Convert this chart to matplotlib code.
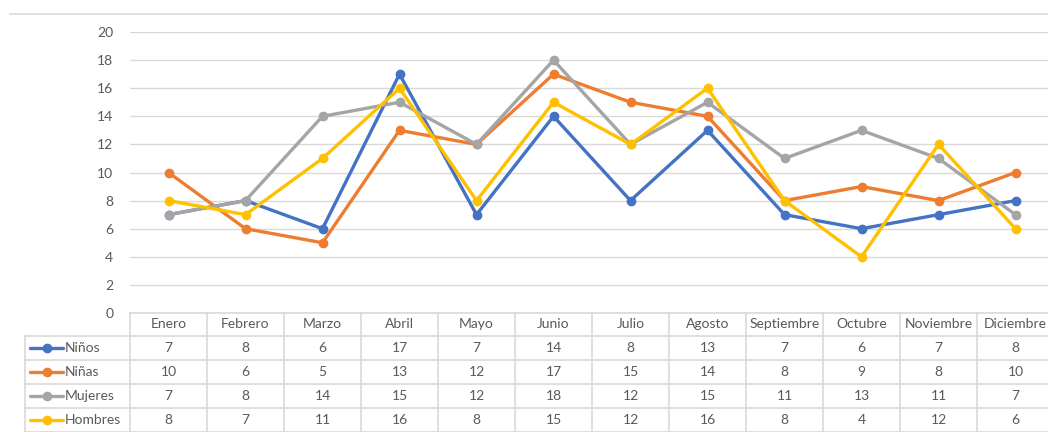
import matplotlib
matplotlib.use("Agg")
import matplotlib.pyplot as plt

months = ["Enero", "Febrero", "Marzo", "Abril", "Mayo", "Junio", "Julio",
          "Agosto", "Septiembre", "Octubre", "Noviembre", "Diciembre"]
series_names = ["Niños", "Niñas", "Mujeres", "Hombres"]
ninos = [7, 8, 6, 17, 7, 14, 8, 13, 7, 6, 7, 8]
ninas = [10, 6, 5, 13, 12, 17, 15, 14, 8, 9, 8, 10]
mujeres = [7, 8, 14, 15, 12, 18, 12, 15, 11, 13, 11, 7]
hombres = [8, 7, 11, 16, 8, 15, 12, 16, 8, 4, 12, 6]
y_ticks = [0, 2, 4, 6, 8, 10, 12, 14, 16, 18, 20]

series = [ninos, ninas, mujeres, hombres]
colors = ["#4472C4", "#ED7D31", "#A5A5A5", "#FFC000"]
txt = "#595959"
grid = "#D9D9D9"

plt.rcParams["font.family"] = ["Lato", "DejaVu Sans"]
FS = 10

W, H = 1048, 432
fig = plt.figure(figsize=(W / 100, H / 100), dpi=100)


def fx(px):
    return px / W


def fy(py):
    return 1 - py / H


x0, x1 = 130, 1054
ytop, ybot = 32, 313
colw = (x1 - x0) / 12

ax = fig.add_axes([fx(x0), fy(ybot), fx(x1) - fx(x0), fy(ytop) - fy(ybot)])
ax.set_xlim(-0.5, 11.5)
ax.set_ylim(0, 20)
ax.set_yticks(y_ticks)
ax.set_xticks([])
ax.yaxis.grid(True, color=grid, lw=1)
ax.set_axisbelow(True)
for s in ax.spines.values():
    s.set_visible(False)
ax.tick_params(axis="y", length=0, pad=12, labelsize=FS, labelcolor=txt)
for vals, c in zip(series, colors):
    ax.plot(range(len(months)), vals, color=c, lw=2.4, marker="o", ms=6,
            solid_joinstyle="round", solid_capstyle="round", clip_on=False)

# overlay for table and border
tax = fig.add_axes([0, 0, 1, 1])
tax.set_xlim(0, W)
tax.set_ylim(H, 0)
tax.axis("off")
tax.patch.set_alpha(0)

# top border line
tax.plot([10, 1048], [14, 14], color=grid, lw=1.2)

row_tops = [313, 336, 360, 384, 408, 432]
for i, y in enumerate(row_tops):
    xs = x0 if i == 0 else 25
    tax.plot([xs, x1], [y, y], color=grid, lw=1.2)
for i in range(13):
    xv = x0 + colw * i
    tax.plot([xv, xv], [313, 432], color=grid, lw=1.2)
tax.plot([25, 25], [336, 432], color=grid, lw=1.2)

for i, m in enumerate(months):
    tax.text(x0 + colw * (i + 0.5), 324.5, m, ha="center", va="center",
             fontsize=FS, color=txt)
for r, (name, vals, c) in enumerate(zip(series_names, series, colors)):
    yc = (row_tops[r + 1] + row_tops[r + 2]) / 2
    tax.plot([30, 63], [yc, yc], color=c, lw=2.4, solid_capstyle="round")
    tax.plot([46.5], [yc], marker="o", ms=6, color=c)
    tax.text(65, yc, name, ha="left", va="center", fontsize=FS, color=txt)
    for i, v in enumerate(vals):
        tax.text(x0 + colw * (i + 0.5), yc, str(v), ha="center", va="center",
                 fontsize=FS, color=txt)

fig.savefig("out.png", dpi=100)
